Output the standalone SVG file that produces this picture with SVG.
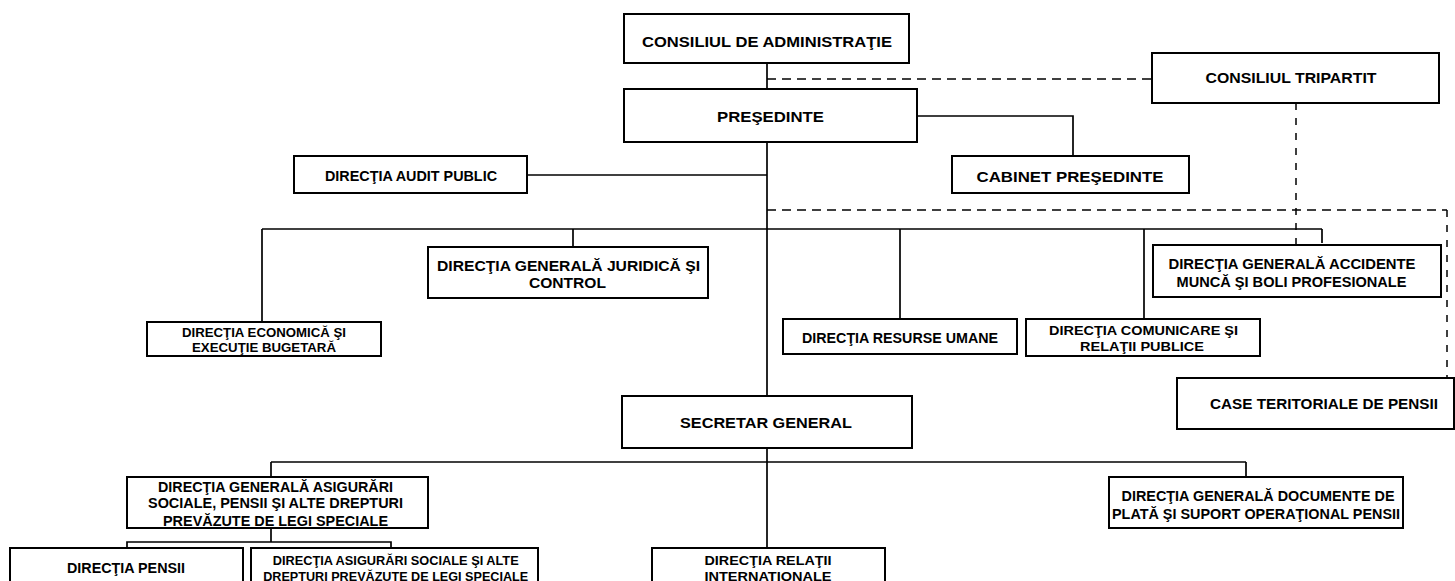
<svg xmlns="http://www.w3.org/2000/svg" width="1455" height="581" viewBox="0 0 1455 581">
<style>
.bg{fill:#fff}
.box{fill:#fff;stroke:#000;stroke-width:2}
.ln{fill:none;stroke:#000;stroke-width:1.7}
.dh{fill:none;stroke:#000;stroke-width:1.5;stroke-dasharray:9 6}
.dv{fill:none;stroke:#000;stroke-width:1.5;stroke-dasharray:7 8}
text{font-family:"Liberation Sans",Arial,sans-serif;font-weight:bold;text-anchor:middle;fill:#000}
.f15{font-size:15px}
.f14{font-size:14px}
.f13{font-size:13px}
.f12{font-size:12px}
</style>
<rect class="bg" x="0" y="0" width="1455" height="581"/>
<g id="connectors">
<line class="ln" x1="767" y1="63" x2="767" y2="89"/>
<line class="ln" x1="767" y1="142" x2="767" y2="396"/>
<line class="ln" x1="767" y1="448" x2="767" y2="548"/>
<line class="ln" x1="527" y1="175" x2="767" y2="175"/>
<polyline class="ln" points="917,116 1073,116 1073,156"/>
<line class="ln" x1="262" y1="229" x2="1322" y2="229"/>
<line class="ln" x1="262" y1="229" x2="262" y2="322"/>
<line class="ln" x1="573" y1="229" x2="573" y2="247"/>
<line class="ln" x1="900" y1="229" x2="900" y2="319"/>
<line class="ln" x1="1144" y1="229" x2="1144" y2="319"/>
<line class="ln" x1="1322" y1="229" x2="1322" y2="243"/>
<line class="ln" x1="271" y1="462" x2="1246" y2="462"/>
<line class="ln" x1="271" y1="462" x2="271" y2="477"/>
<line class="ln" x1="1246" y1="462" x2="1246" y2="477"/>
<polyline class="ln" points="271,528 271,542"/>
<polyline class="ln" points="127,548 127,542 391,542 391,548"/>
<line class="dh" x1="767" y1="79" x2="1152" y2="79"/>
<line class="dv" x1="1296" y1="103" x2="1296" y2="245"/>
<line class="dh" x1="767" y1="210" x2="1447" y2="210"/>
<line class="dv" x1="1447" y1="210" x2="1447" y2="378"/>
</g>
<g id="n-consiliul-admin">
<rect class="box" x="624" y="14" width="285" height="49"/>
<text class="f15" x="767" y="46.5" textLength="250" lengthAdjust="spacingAndGlyphs">CONSILIUL DE ADMINISTRAŢIE</text>
</g>
<g id="n-presedinte">
<rect class="box" x="624" y="89" width="293" height="53"/>
<text class="f15" x="770.5" y="122" textLength="107" lengthAdjust="spacingAndGlyphs">PREŞEDINTE</text>
</g>
<g id="n-tripartit">
<rect class="box" x="1152" y="53" width="287" height="50"/>
<text class="f15" x="1291" y="83" textLength="171" lengthAdjust="spacingAndGlyphs">CONSILIUL TRIPARTIT</text>
</g>
<g id="n-cabinet">
<rect class="box" x="952" y="156" width="237" height="37"/>
<text class="f15" x="1070" y="181.5" textLength="187" lengthAdjust="spacingAndGlyphs">CABINET PREŞEDINTE</text>
</g>
<g id="n-audit">
<rect class="box" x="294" y="156" width="233" height="37"/>
<text class="f15" x="411" y="181" textLength="172" lengthAdjust="spacingAndGlyphs">DIRECŢIA AUDIT PUBLIC</text>
</g>
<g id="n-juridica">
<rect class="box" x="428" y="247" width="280" height="51"/>
<text class="f15" x="568.5" y="270.5" textLength="263" lengthAdjust="spacingAndGlyphs">DIRECŢIA GENERALĂ JURIDICĂ ŞI</text>
<text class="f15" x="567.5" y="288" textLength="77" lengthAdjust="spacingAndGlyphs">CONTROL</text>
</g>
<g id="n-economica">
<rect class="box" x="147" y="322" width="234" height="34"/>
<text class="f13" x="264" y="337" textLength="164" lengthAdjust="spacingAndGlyphs">DIRECŢIA ECONOMICĂ ŞI</text>
<text class="f13" x="264" y="352" textLength="144" lengthAdjust="spacingAndGlyphs">EXECUŢIE BUGETARĂ</text>
</g>
<g id="n-resurse">
<rect class="box" x="783" y="319" width="234" height="35"/>
<text class="f14" x="900" y="342.5" textLength="196" lengthAdjust="spacingAndGlyphs">DIRECŢIA RESURSE UMANE</text>
</g>
<g id="n-comunicare">
<rect class="box" x="1026" y="319" width="234" height="37"/>
<text class="f13" x="1143.5" y="335" textLength="189" lengthAdjust="spacingAndGlyphs">DIRECŢIA COMUNICARE ŞI</text>
<text class="f13" x="1142" y="350.5" textLength="124" lengthAdjust="spacingAndGlyphs">RELAŢII PUBLICE</text>
</g>
<g id="n-accidente">
<rect class="box" x="1153" y="245" width="288" height="52"/>
<text class="f15" x="1292" y="269" textLength="247" lengthAdjust="spacingAndGlyphs">DIRECŢIA GENERALĂ ACCIDENTE</text>
<text class="f15" x="1291.5" y="286.5" textLength="230" lengthAdjust="spacingAndGlyphs">MUNCĂ ŞI BOLI PROFESIONALE</text>
</g>
<g id="n-case">
<rect class="box" x="1177" y="378" width="277" height="51"/>
<text class="f15" x="1324" y="409" textLength="228" lengthAdjust="spacingAndGlyphs">CASE TERITORIALE DE PENSII</text>
</g>
<g id="n-secretar">
<rect class="box" x="622" y="396" width="290" height="52"/>
<text class="f15" x="766" y="428" textLength="172" lengthAdjust="spacingAndGlyphs">SECRETAR GENERAL</text>
</g>
<g id="n-asigurari">
<rect class="box" x="127" y="477" width="301" height="51"/>
<text class="f14" x="275.5" y="491.5" textLength="235" lengthAdjust="spacingAndGlyphs">DIRECŢIA GENERALĂ ASIGURĂRI</text>
<text class="f14" x="275.5" y="508.3" textLength="255" lengthAdjust="spacingAndGlyphs">SOCIALE, PENSII ŞI ALTE DREPTURI</text>
<text class="f14" x="275.5" y="525.5" textLength="225" lengthAdjust="spacingAndGlyphs">PREVĂZUTE DE LEGI SPECIALE</text>
</g>
<g id="n-documente">
<rect class="box" x="1109" y="477" width="294" height="51"/>
<text class="f14" x="1258" y="500.5" textLength="273" lengthAdjust="spacingAndGlyphs">DIRECŢIA GENERALĂ DOCUMENTE DE</text>
<text class="f14" x="1256" y="519" textLength="288" lengthAdjust="spacingAndGlyphs">PLATĂ ŞI SUPORT OPERAŢIONAL PENSII</text>
</g>
<g id="n-relatii">
<rect class="box" x="652" y="548" width="233" height="50"/>
<text class="f13" x="768" y="565" textLength="127" lengthAdjust="spacingAndGlyphs">DIRECŢIA RELAŢII</text>
<text class="f13" x="768" y="580.5" textLength="127" lengthAdjust="spacingAndGlyphs">INTERNATIONALE</text>
</g>
<g id="n-pensii">
<rect class="box" x="10" y="548" width="233" height="50"/>
<text class="f14" x="126" y="573.3" textLength="118" lengthAdjust="spacingAndGlyphs">DIRECŢIA PENSII</text>
</g>
<g id="n-asig-sociale">
<rect class="box" x="251" y="548" width="287" height="50"/>
<text class="f12" x="395.7" y="565" textLength="246" lengthAdjust="spacingAndGlyphs">DIRECŢIA ASIGURĂRI SOCIALE ŞI ALTE</text>
<text class="f12" x="395.7" y="580.5" textLength="265" lengthAdjust="spacingAndGlyphs">DREPTURI PREVĂZUTE DE LEGI SPECIALE</text>
</g>
</svg>
